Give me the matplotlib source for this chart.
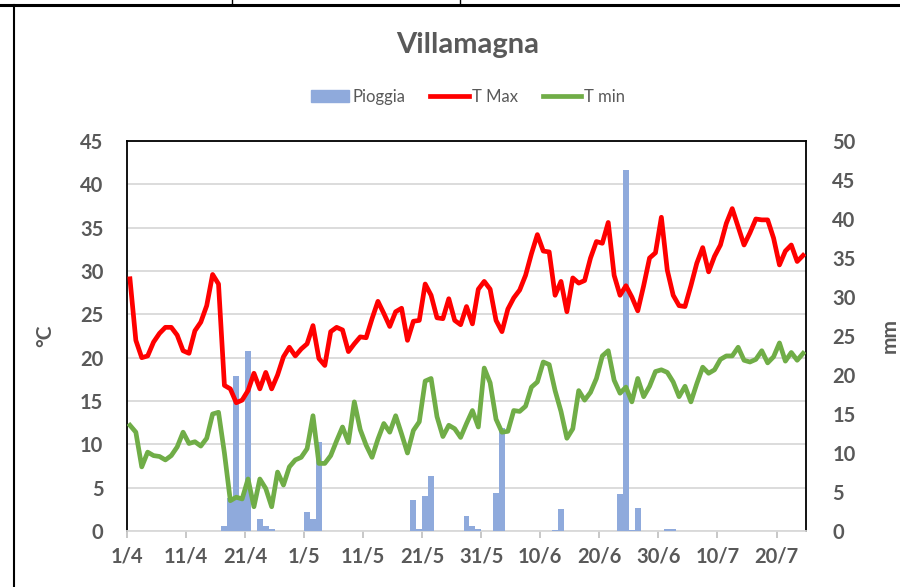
import matplotlib.pyplot as plt
from matplotlib.lines import Line2D
from matplotlib.patches import Patch
import numpy as np

plt.rcParams['font.family'] = ['Lato', 'DejaVu Sans']

# giorni dal 1/4 al 24/7 (indice 0 = 1/4)
n_giorni = 115

# temperature massime giornaliere (°C)
t_max = [29.1, 22.0, 20.0, 20.2, 21.8, 22.8, 23.5, 23.5, 22.6, 20.8,
         20.5, 23.1, 24.1, 26.0, 29.6, 28.5, 16.8, 16.4, 14.8, 15.1,
         16.2, 18.2, 16.4, 18.3, 16.4, 18.0, 20.1, 21.2, 20.2, 21.0,
         21.6, 23.7, 19.9, 19.1, 23.0, 23.5, 23.2, 20.7, 21.6, 22.4,
         22.3, 24.5, 26.5, 25.1, 23.6, 25.3, 25.7, 22.0, 24.2, 24.3,
         28.5, 27.2, 24.6, 24.5, 26.8, 24.3, 23.8, 25.9, 23.9, 27.9,
         28.8, 27.9, 24.3, 23.0, 25.6, 26.9, 27.8, 29.5, 32.0, 34.2,
         32.3, 32.2, 27.2, 28.8, 25.3, 29.2, 28.6, 28.9, 31.5, 33.4,
         33.2, 35.6, 29.5, 27.2, 28.3, 27.0, 25.4, 28.3, 31.5, 32.1,
         36.2, 30.1, 27.2, 26.0, 25.9, 28.3, 30.9, 32.7, 29.9, 31.7,
         33.0, 35.5, 37.2, 35.1, 33.0, 34.4, 36.0, 35.9, 35.9, 33.8,
         30.7, 32.3, 33.0, 31.1, 31.8]

# temperature minime giornaliere (°C)
t_min = [12.2, 11.4, 7.4, 9.1, 8.7, 8.6, 8.2, 8.7, 9.7, 11.4,
         10.1, 10.3, 9.8, 10.7, 13.5, 13.7, 9.0, 3.5, 3.9, 3.7,
         6.0, 2.8, 6.0, 4.9, 2.8, 6.8, 5.3, 7.4, 8.2, 8.5,
         9.5, 13.3, 7.8, 7.8, 8.7, 10.4, 12.0, 10.2, 14.9, 11.7,
         9.9, 8.5, 10.6, 12.4, 11.4, 13.3, 11.2, 9.0, 11.6, 12.6,
         17.3, 17.6, 13.2, 10.9, 12.2, 11.8, 10.8, 12.4, 13.9, 12.0,
         18.8, 17.1, 12.9, 11.4, 11.5, 13.9, 13.8, 14.4, 16.6, 17.2,
         19.5, 19.2, 16.2, 13.8, 10.7, 11.8, 16.2, 15.1, 16.0, 17.6,
         20.2, 20.8, 17.4, 15.9, 16.6, 14.9, 17.6, 15.5, 16.7, 18.4,
         18.6, 18.3, 17.2, 15.5, 16.7, 14.9, 17.0, 18.9, 18.2, 18.6,
         19.8, 20.2, 20.2, 21.2, 19.7, 19.5, 19.8, 20.8, 19.4, 20.1,
         21.7, 19.6, 20.6, 19.7, 20.5]

# pioggia (mm): solo i giorni piovosi
giorni_pioggia = [16, 17, 18, 19, 20, 22, 23, 24, 30, 31, 32, 48, 49, 50,
                  51, 57, 58, 59, 62, 63, 72, 73, 83, 84, 85, 86, 91, 92]
mm_pioggia = [0.6, 4.2, 19.9, 4.2, 23.1, 1.6, 0.6, 0.2, 2.4, 1.6, 11.4, 4.0,
              0.2, 4.5, 7.0, 1.9, 0.7, 0.2, 4.9, 13.2, 0.15, 2.8, 4.8, 46.3,
              0.15, 3.0, 0.2, 0.2]

etichette_x = ['1/4', '11/4', '21/4', '1/5', '11/5', '21/5', '31/5',
               '10/6', '20/6', '30/6', '10/7', '20/7']

pioggia = np.zeros(n_giorni)
pioggia[giorni_pioggia] = mm_pioggia
x = np.arange(n_giorni) + 0.5

grigio = '#595959'
blu = '#8FAADC'
rosso = '#FF0000'
verde = '#70AD47'

fig = plt.figure(figsize=(9, 5.87), dpi=100)
ax = fig.add_axes([0.1411, 0.0954, 0.7545, 0.6644])
ax_r = ax.twinx()   # pioggia (asse destro)
ax_l = ax.twinx()   # linee temperature sopra le barre

# asse sinistro + griglia
ax.set_xlim(0, n_giorni)
ax.set_ylim(0, 45)
ax.set_yticks(np.arange(0, 46, 5))
ax.grid(axis='y', color='#D9D9D9', linewidth=1.3)
ax.set_axisbelow(True)
ax.tick_params(axis='y', length=0, pad=17, labelsize=14.5, labelcolor=grigio)
ax.set_xticks(np.arange(0, 111, 10))
ax.set_xticklabels(etichette_x)
ax.tick_params(axis='x', length=5, width=1.2, color='#BFBFBF', pad=6,
               labelsize=14.5, labelcolor=grigio)
for lab in ax.get_xticklabels() + ax.get_yticklabels():
    lab.set_fontweight('bold')
for s in ['top', 'left', 'right']:
    ax.spines[s].set_color('black')
    ax.spines[s].set_linewidth(1.3)
ax.spines['bottom'].set_color('#D9D9D9')
ax.spines['bottom'].set_linewidth(1.3)
ax.set_ylabel('°C', fontsize=15, fontweight='bold', color=grigio)
ax.yaxis.set_label_coords(-0.106, 0.5)

# barre pioggia
ax_r.bar(x, pioggia, width=1.0, color=blu, linewidth=0)
ax_r.set_ylim(0, 50)
ax_r.set_yticks(np.arange(0, 51, 5))
ax_r.tick_params(axis='y', length=0, pad=19, labelsize=14.5, labelcolor=grigio)
for lab in ax_r.get_yticklabels():
    lab.set_fontweight('bold')
ax_r.set_ylabel('mm', fontsize=15, fontweight='bold', color=grigio)
ax_r.yaxis.set_label_coords(1.109, 0.5)
for s in ax_r.spines.values():
    s.set_visible(False)

# linee temperature
ax_l.plot(x, t_max, color=rosso, linewidth=3.4, solid_joinstyle='round')
ax_l.plot(x, t_min, color=verde, linewidth=3.4, solid_joinstyle='round')
ax_l.set_ylim(0, 45)
ax_l.yaxis.set_visible(False)
for s in ax_l.spines.values():
    s.set_visible(False)

fig.text(0.52, 0.923, 'Villamagna', ha='center', va='center', fontsize=21,
         fontweight='bold', color=grigio)

maniglie = [Patch(color=blu), Line2D([], [], color=rosso, linewidth=3.4),
            Line2D([], [], color=verde, linewidth=3.4)]
fig.legend(maniglie, ['Pioggia', 'T Max', 'T min'], loc='center',
           bbox_to_anchor=(0.52, 0.835), ncol=3, frameon=False, fontsize=12,
           handlelength=2.3, handletextpad=0.2, columnspacing=1.5,
           labelcolor=grigio)

# bordi della tabella del documento
fig.add_artist(Line2D([0, 1], [0.9915, 0.9915], transform=fig.transFigure,
                      color='black', linewidth=2.2))
fig.add_artist(Line2D([0.2578, 0.2578], [0.9915, 1], transform=fig.transFigure,
                      color='black', linewidth=1))
fig.add_artist(Line2D([0.511, 0.511], [0.9915, 1], transform=fig.transFigure,
                      color='black', linewidth=1))
fig.add_artist(Line2D([0.0155, 0.0155], [0, 0.9915], transform=fig.transFigure,
                      color='black', linewidth=1.5))

fig.savefig('out.png', dpi=100)
